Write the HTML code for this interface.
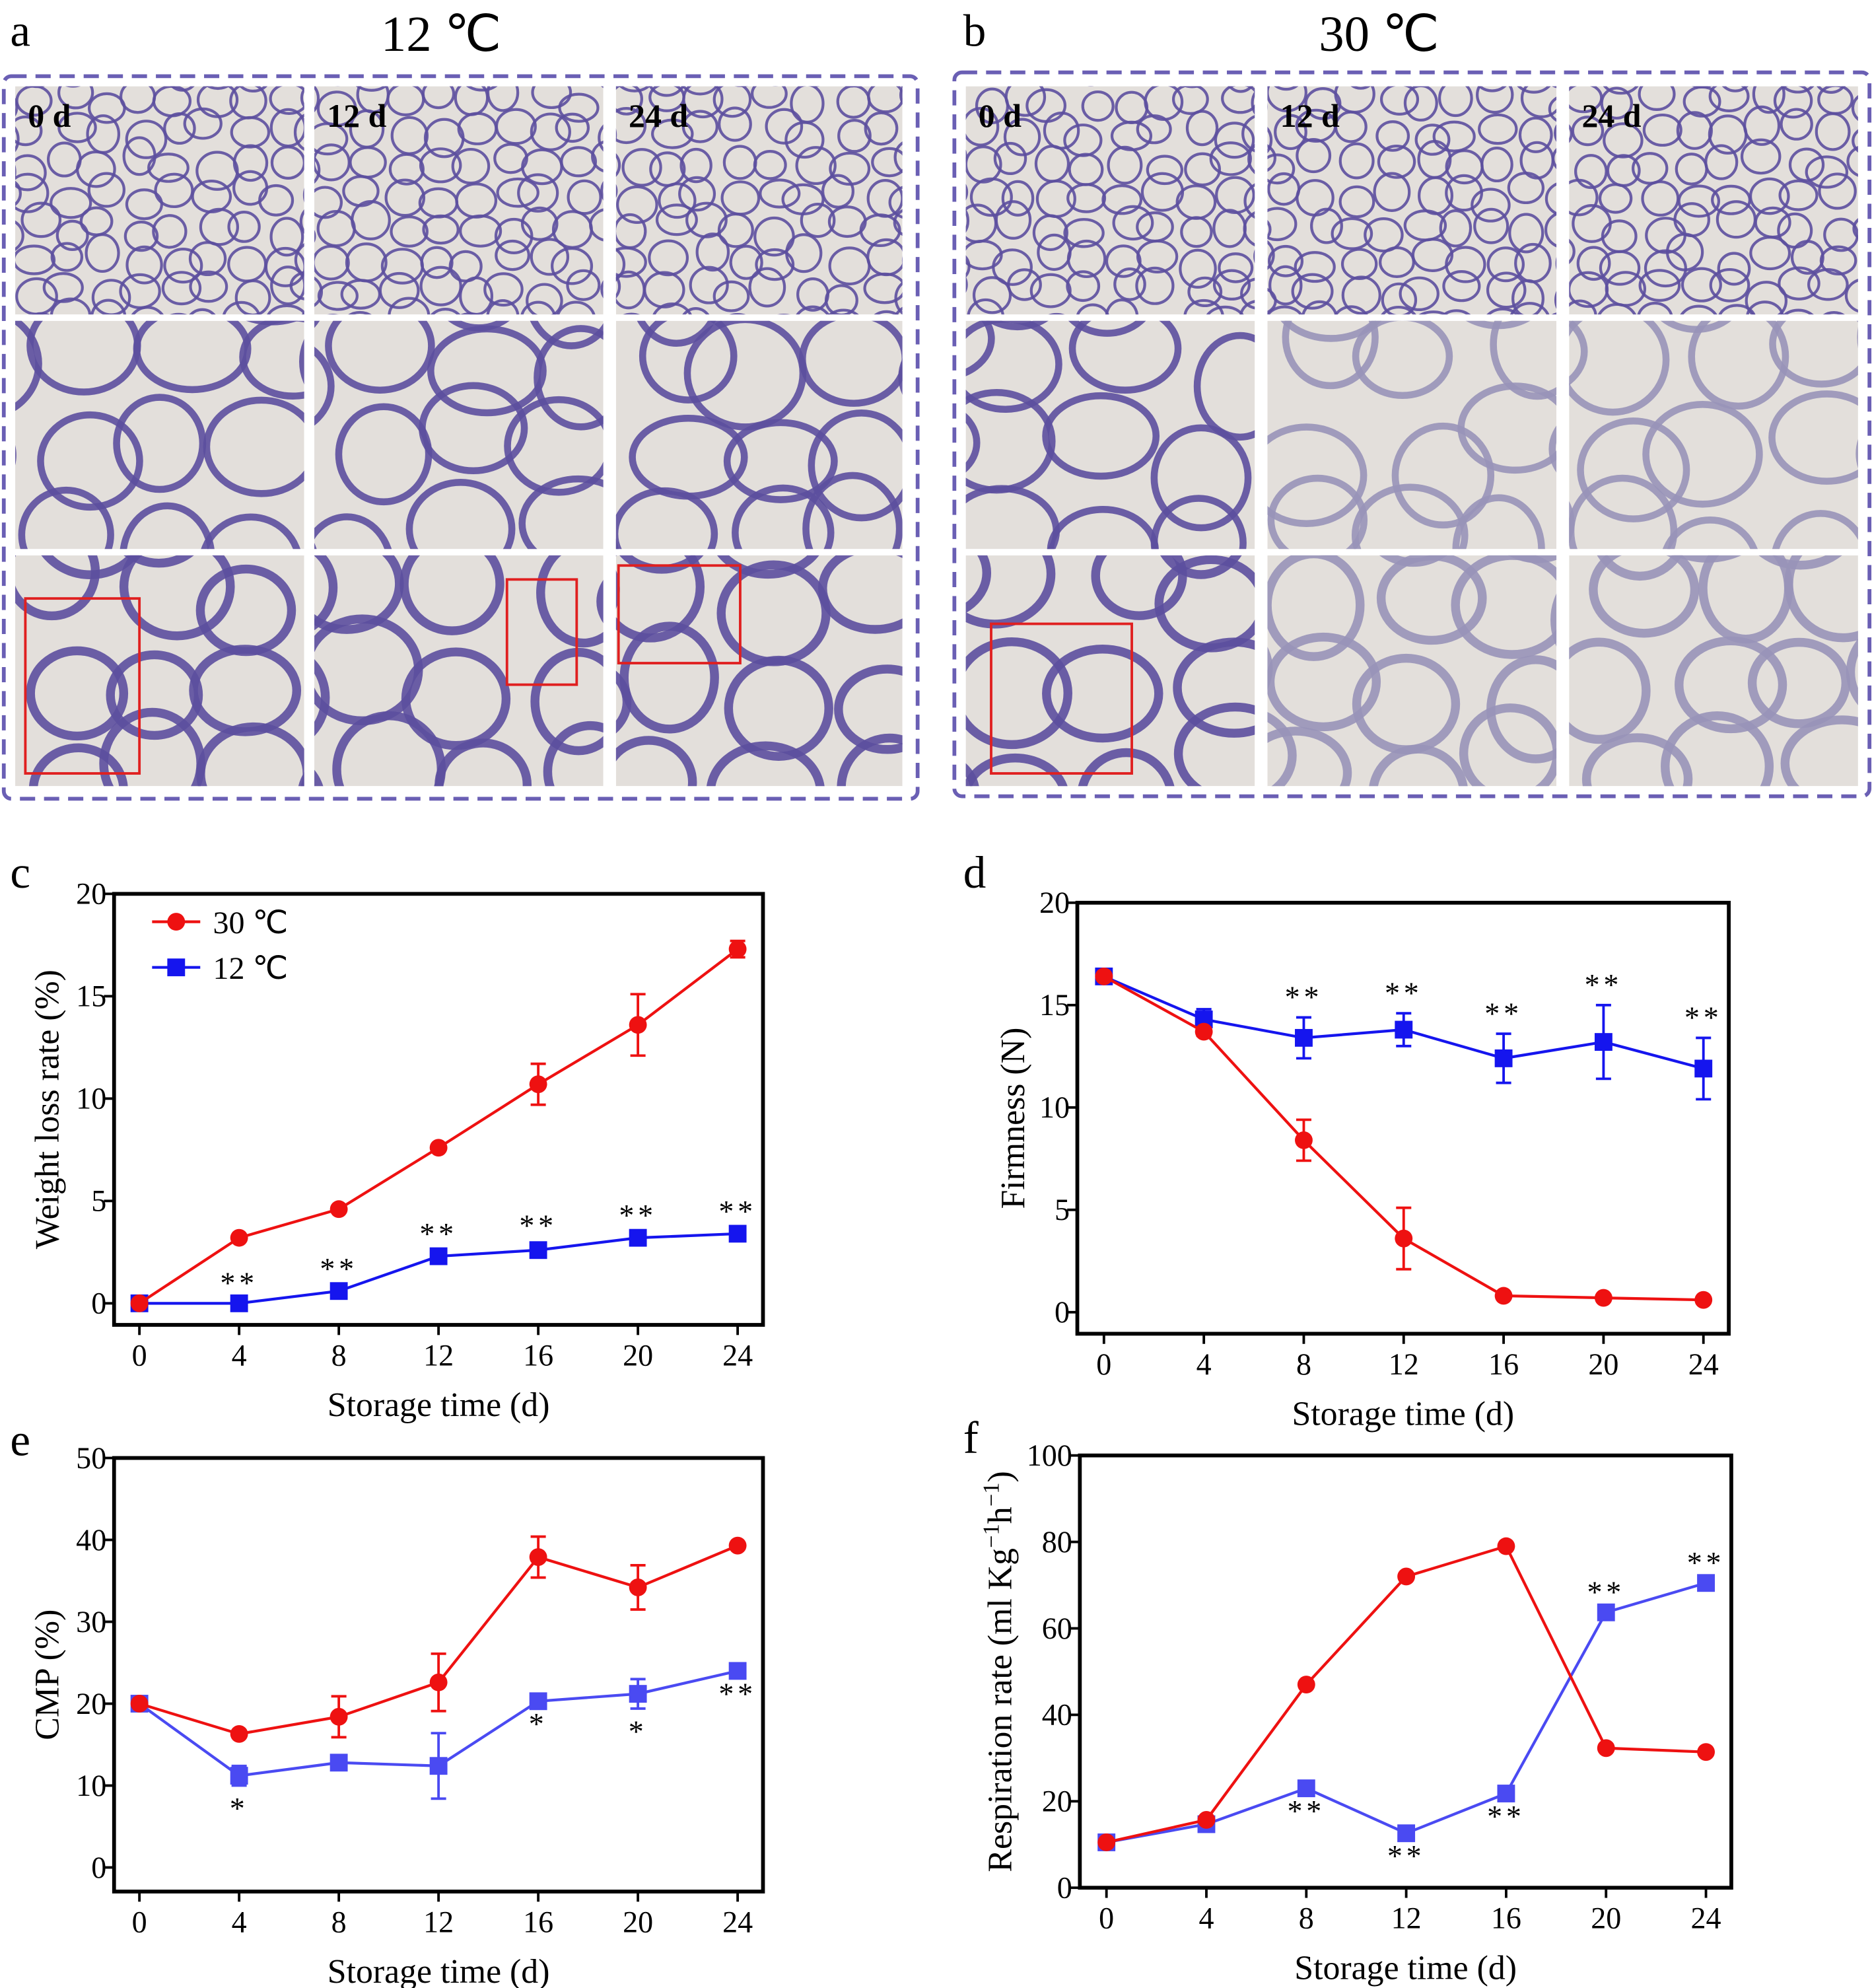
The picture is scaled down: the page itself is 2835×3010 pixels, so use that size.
<!DOCTYPE html>
<html><head><meta charset="utf-8"><style>
html,body{margin:0;padding:0;background:#fff}
svg{display:block}
text{font-family:"Liberation Serif",serif;fill:#000}
</style></head><body>
<svg id="fig" width="2835" height="3010" viewBox="0 0 1477 1568" xmlns="http://www.w3.org/2000/svg">
<g id="micro"></g>
<g id="charts"></g>
</svg>
<script>
const NS="http://www.w3.org/2000/svg";
function mk(parent,tag,attrs,txt){const e=document.createElementNS(NS,tag);for(const k in attrs)e.setAttribute(k,attrs[k]);if(txt!==undefined)e.textContent=txt;parent.appendChild(e);return e;}
let seed=7;function rnd(){seed=(seed*16807)%2147483647;return seed/2147483647;}

// ---------- micrographs ----------
const micro=document.getElementById('micro');
function panel(x0,y0,x1,y1,label,title,tlx,cols,rows,tileLabels,rects){
  const g=mk(micro,'g',{});
  
  
  const box=mk(g,'rect',{x:x0,y:y0,width:x1-x0,height:y1-y0,rx:6,fill:'none',stroke:'#6a5fb4','stroke-width':3,'stroke-dasharray':'12 7'});
  
  const pl=mk(g,'text',{x:label==='a'?8:760,y:36,'font-size':36},label);
  
  const tt=mk(g,'text',{x:tlx,y:40,'font-size':40,'text-anchor':'middle'},title);
  
  rows.forEach((r,ri)=>{cols.forEach((c,ci)=>{
    const tg=mk(g,'g',{});
    
    const cid='clip'+label+ri+ci;
    const cp=mk(tg,'clipPath',{id:cid});mk(cp,'rect',{x:c[0],y:r[0],width:c[1]-c[0],height:r[1]-r[0]});
    const inner=mk(tg,'g',{'clip-path':'url(#'+cid+')'});
    mk(inner,'rect',{x:c[0],y:r[0],width:c[1]-c[0],height:r[1]-r[0],fill:'#e3dfdb'});
    const size=ri===0?28:80, sw=ri===0?2.2:(ri===1?5.5:7);
    const faded=(label==='b'&&ci>0&&ri>0);
    const col=faded?'#9893b8':'#5c4f9e';
    for(let y=r[0]-size/2;y<r[1]+size;y+=size*0.9){
      for(let x=c[0]-size/2;x<c[1]+size;x+=size){
        const cx=x+(rnd()-0.5)*size*0.5, cy=y+(rnd()-0.5)*size*0.5;
        mk(inner,'ellipse',{cx:cx,cy:cy,rx:size*(0.42+rnd()*0.15),ry:size*(0.38+rnd()*0.15),fill:'none',stroke:col,'stroke-width':sw,opacity:0.9});
      }
    }
    if(tileLabels[ri]&&tileLabels[ri][ci]){
      const tl=mk(tg,'text',{x:c[0]+10,y:r[0]+32,'font-size':26,'font-weight':'bold'},tileLabels[ri][ci]);
      
    }
  });});
  rects.forEach(q=>{const rr=mk(g,'rect',{x:q[0],y:q[1],width:q[2]-q[0],height:q[3]-q[1],fill:'none',stroke:'#e02020','stroke-width':2});
    });
}
const rowsY=[[68,248],[253,433],[438,620]];
panel(3,60,724,630,'a','12 ℃',348,[[12,240],[248,476],[486,712]],rowsY,[['0 d','12 d','24 d']],
  [[20,472,110,610],[400,457,455,540],[488,446,584,523]]);
panel(753,57,1475,628,'b','30 ℃',1088,[[762,990],[1000,1228],[1238,1466]],rowsY,[['0 d','12 d','24 d']],
  [[782,492,893,610]]);

// ---------- chart data ----------
const days=[0,4,8,12,16,20,24];
const xTicks=[0,4,8,12,16,20,24];
const wl30=[0,3.2,4.6,7.6,10.7,13.6,17.3];
const wl30Err=[0,0.1,0.1,0.1,1.0,1.5,0.4];
const wl12=[0,0,0.6,2.3,2.6,3.2,3.4];
const wl12Err=[0,0,0.1,0.1,0.2,0.1,0.1];
const wlStars=['','**','**','**','**','**','**'];
const fm30=[16.4,13.7,8.4,3.6,0.8,0.7,0.6];
const fm30Err=[0,0.2,1.0,1.5,0,0,0];
const fm12=[16.4,14.3,13.4,13.8,12.4,13.2,11.9];
const fm12Err=[0,0.5,1.0,0.8,1.2,1.8,1.5];
const fmStars=['','','**','**','**','**','**'];
const cmp30=[20,16.3,18.4,22.6,37.9,34.2,39.3];
const cmp30Err=[0,0,2.5,3.5,2.5,2.7,0];
const cmp12=[20,11.2,12.8,12.4,20.3,21.2,24];
const cmp12Err=[0,1.2,0,4,0,1.8,0];
const cmpStars=['','*','','','*','*','**'];
const rr30=[10.5,15.7,47,72,79,32.3,31.4];
const rr12=[10.5,14.7,23,12.6,21.8,63.7,70.5];
const rrStars=['','','**','**','**','**','**'];
const rrStarBelow=[false,false,true,true,true,false,false];

const charts=document.getElementById('charts');
function chart(o){
  const g=mk(charts,'g',{});
  
  const X=v=>o.x0+(v-0)/24*(o.x24-o.x0);
  const Y=v=>o.yb-(v-0)/o.ymax*(o.yb-o.yt);
  const fr=mk(g,'rect',{x:o.bx0,y:o.by0,width:o.bx1-o.bx0,height:o.by1-o.by0,fill:'none',stroke:'#000','stroke-width':3});
  
  const pl=mk(g,'text',{x:o.lx,y:o.ly,'font-size':36},o.id);
  
  xTicks.forEach(t=>{
    mk(g,'line',{x1:X(t),x2:X(t),y1:o.by1,y2:o.by1+8,stroke:'#000','stroke-width':2});
    const tl=mk(g,'text',{x:X(t),y:o.by1+32,'font-size':24,'text-anchor':'middle'},t);
    
  });
  o.yTicks.forEach(t=>{
    mk(g,'line',{x1:o.bx0-8,x2:o.bx0,y1:Y(t),y2:Y(t),stroke:'#000','stroke-width':2});
    const tl=mk(g,'text',{x:o.bx0-6,y:Y(t)+8,'font-size':24,'text-anchor':'end'},t);
    
  });
  const xt=mk(g,'text',{x:(o.bx0+o.bx1)/2,y:o.by1+72,'font-size':27,'text-anchor':'middle'},'Storage time (d)');
  
  const yc=(o.by0+o.by1)/2;
  const yt=mk(g,'text',{x:o.ytx,y:yc,'font-size':27,'text-anchor':'middle',transform:'rotate(-90 '+o.ytx+' '+yc+')'});
  
  if(o.ytitleSup){
    mk(yt,'tspan',{},'Respiration rate (ml Kg');mk(yt,'tspan',{dy:-10,'font-size':18},'−1');
    mk(yt,'tspan',{dy:10},'h');mk(yt,'tspan',{dy:-10,'font-size':18},'−1');mk(yt,'tspan',{dy:10},')');
  } else yt.textContent=o.ytitle;
  function series(vals,errs,color,shape,name){
    const sg=mk(g,'g',{});
    
    mk(sg,'polyline',{points:days.map((d,i)=>X(d)+','+Y(vals[i])).join(' '),fill:'none',stroke:color,'stroke-width':2.2});
    days.forEach((d,i)=>{
      if(errs&&errs[i]>0){
        const e=errs[i],x=X(d);
        mk(sg,'path',{d:`M${x},${Y(vals[i]-e)}V${Y(vals[i]+e)}M${x-6},${Y(vals[i]+e)}H${x+6}M${x-6},${Y(vals[i]-e)}H${x+6}`,stroke:color,'stroke-width':2,fill:'none'});
      }
      let m;
      if(shape==='c') m=mk(sg,'circle',{cx:X(d),cy:Y(vals[i]),r:7,fill:color});
      else m=mk(sg,'rect',{x:X(d)-7,y:Y(vals[i])-7,width:14,height:14,fill:color});
      
    });
  }
  series(o.s12,o.e12,o.blue,'s','series-12C');
  series(o.s30,o.e30,'#ee1111','c','series-30C');
  days.forEach((d,i)=>{
    if(!o.stars[i])return;
    const below=o.below[i];
    const v=o.s12[i], e=(o.e12?o.e12[i]:0);
    const y=below?Y(v-e)+26:Y(v+e)-8;
    const st=mk(g,'text',{x:X(d),y:y,'font-size':24,'text-anchor':'middle','letter-spacing':'3'},o.stars[i]);
    
  });
  if(o.legend){
    const lg=mk(g,'g',{});
    
    mk(lg,'line',{x1:120,x2:158,y1:727,y2:727,stroke:'#ee1111','stroke-width':2.2});
    mk(lg,'circle',{cx:139,cy:727,r:7,fill:'#ee1111'});
    mk(lg,'text',{x:168,y:736,'font-size':25},'30 ℃');
    mk(lg,'line',{x1:120,x2:158,y1:763,y2:763,stroke:'#1515ee','stroke-width':2.2});
    mk(lg,'rect',{x:132,y:756,width:14,height:14,fill:'#1515ee'});
    mk(lg,'text',{x:168,y:772,'font-size':25},'12 ℃');
  }
}
const none=[false,false,false,false,false,false,false];
chart({id:'c',bx0:90,bx1:602,by0:705,by1:1045,x0:110,x24:582,yb:1028,yt:705,ymax:20,yTicks:[0,5,10,15,20],
  s30:wl30,e30:wl30Err,s12:wl12,e12:wl12Err,stars:wlStars,below:none,blue:'#1515ee',lx:8,ly:700,ytx:46,ytitle:'Weight loss rate (%)',legend:true});
chart({id:'d',bx0:850,bx1:1364,by0:712,by1:1052,x0:871,x24:1344,yb:1035,yt:712,ymax:20,yTicks:[0,5,10,15,20],
  s30:fm30,e30:fm30Err,s12:fm12,e12:fm12Err,stars:fmStars,below:none,blue:'#1515ee',lx:760,ly:700,ytx:808,ytitle:'Firmness (N)'});
chart({id:'e',bx0:90,bx1:602,by0:1150,by1:1492,x0:110,x24:582,yb:1473,yt:1150,ymax:50,yTicks:[0,10,20,30,40,50],
  s30:cmp30,e30:cmp30Err,s12:cmp12,e12:cmp12Err,stars:cmpStars,below:[false,true,false,false,true,true,true],blue:'#4a4af2',lx:8,ly:1148,ytx:46,ytitle:'CMP (%)'});
chart({id:'f',bx0:852,bx1:1366,by0:1148,by1:1489,x0:873,x24:1346,yb:1489,yt:1148,ymax:100,yTicks:[0,20,40,60,80,100],
  s30:rr30,e30:null,s12:rr12,e12:null,stars:rrStars,below:rrStarBelow,blue:'#4a4af2',lx:760,ly:1146,ytx:798,ytitleSup:true});
</script>
</body></html>
